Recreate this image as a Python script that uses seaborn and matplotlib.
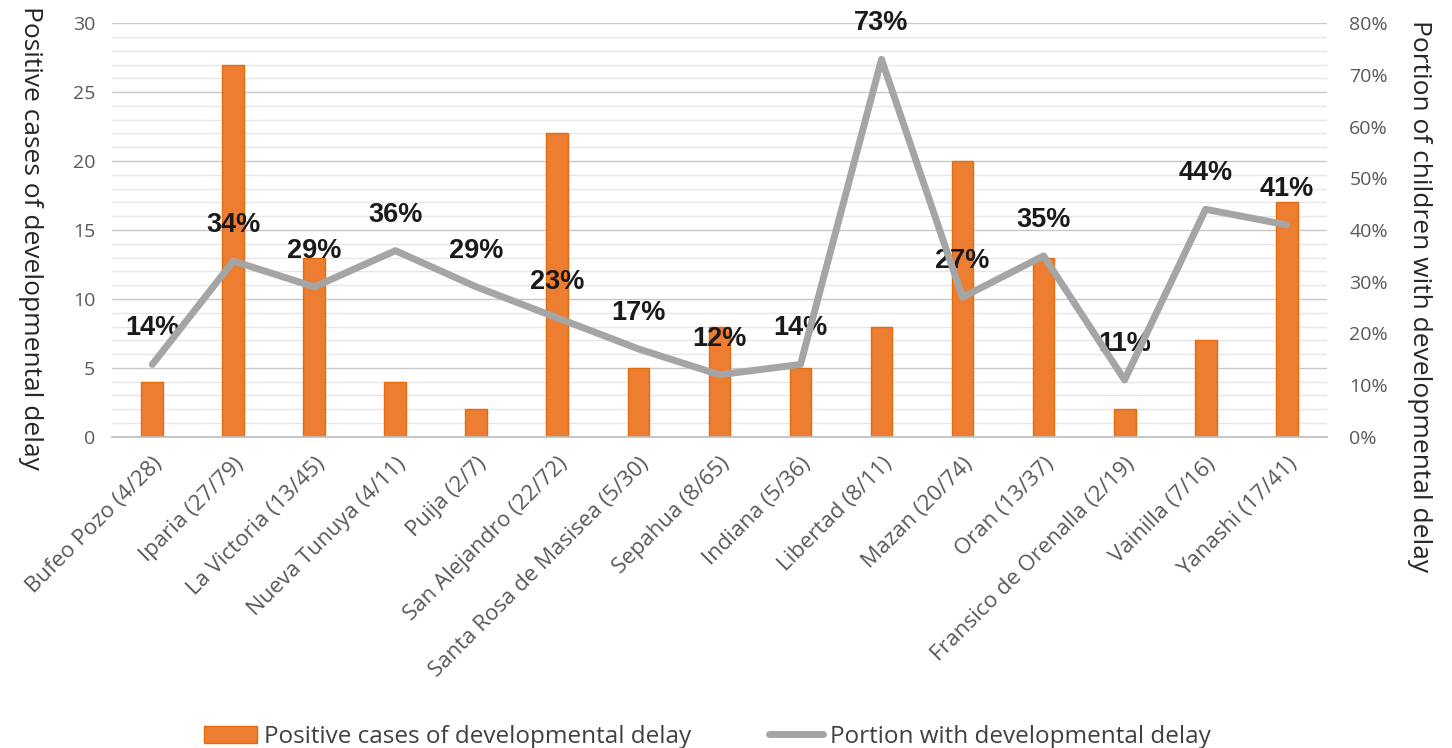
import numpy as np
import pandas as pd
import matplotlib
matplotlib.use("Agg")
import matplotlib.pyplot as plt
import seaborn as sns
from matplotlib.ticker import MultipleLocator, PercentFormatter
from matplotlib.lines import Line2D
from matplotlib.patches import Patch

# Data
communities = ["Bufeo Pozo (4/28)", "Iparia (27/79)", "La Victoria (13/45)",
               "Nueva Tunuya (4/11)", "Puija (2/7)", "San Alejandro (22/72)",
               "Santa Rosa de Masisea (5/30)", "Sepahua (8/65)", "Indiana (5/36)",
               "Libertad (8/11)", "Mazan (20/74)", "Oran (13/37)",
               "Fransico de Orenalla (2/19)", "Vainilla (7/16)", "Yanashi (17/41)"]
positive_cases = [4, 27, 13, 4, 2, 22, 5, 8, 5, 8, 20, 13, 2, 7, 17]
portion_pct = [14, 34, 29, 36, 29, 23, 17, 12, 14, 73, 27, 35, 11, 44, 41]

bar_label = "Positive cases of developmental delay"
line_label = "Portion with developmental delay"

df = pd.DataFrame({"community": communities,
                   "cases": positive_cases,
                   "portion": portion_pct})
df["pos"] = np.arange(len(df))

sns.set_theme(style="white")
plt.rcParams["font.family"] = ["Open Sans", "DejaVu Sans"]

bar_color = "#ED7D31"
line_color = "#A5A5A5"
tick_color = "#595959"

fig = plt.figure(figsize=(14.52, 7.48), dpi=100)
ax = fig.add_axes([0.077, 0.416, 0.837, 0.553])

sns.barplot(data=df, x="community", y="cases", color=bar_color, width=0.27,
            edgecolor="#E46C0A", linewidth=1, saturation=1, ax=ax, zorder=2)
ax.set_ylim(0, 30)
ax.set_xlim(-0.5, len(df) - 0.5)
ax.yaxis.set_major_locator(MultipleLocator(5))
ax.yaxis.set_minor_locator(MultipleLocator(1))
ax.grid(axis="y", which="major", color="#C8C8C8", linewidth=1, zorder=0)
ax.grid(axis="y", which="minor", color="#E6E6E6", linewidth=1, zorder=0)
ax.set_axisbelow(True)
for s in ["top", "right", "left"]:
    ax.spines[s].set_visible(False)
ax.spines["bottom"].set_color("#BFBFBF")

ax.set_xlabel("")
ax.set_ylabel("Positive cases of developmental delay", rotation=270,
              fontsize=19, color="#262626")
ax.yaxis.set_label_coords(-0.077, 0.5 - 0.02)
ax.tick_params(axis="y", which="both", length=0, labelsize=14,
               labelcolor=tick_color, pad=12)
ax.set_xticks(np.arange(len(df)))
ax.set_xticklabels(communities, rotation=45, ha="right", rotation_mode="anchor",
                   fontsize=16, color=tick_color)
ax.tick_params(axis="x", length=0, pad=12)
# Excel-style tick marks between categories
ax.set_xticks(np.arange(len(df) + 1) - 0.5, minor=True)
ax.tick_params(axis="x", which="minor", length=8, color="#BFBFBF", width=1)

# percentage labels above the line points
for i, p in enumerate(portion_pct):
    ax.annotate(f"{p}%", xy=(i, p / 80 * 30), xytext=(0, 26),
                textcoords="offset points", ha="center", va="center",
                fontsize=19.5, fontweight="bold", color="#1A1A1A",
                family=["Liberation Sans", "DejaVu Sans"], zorder=3)

ax2 = ax.twinx()
sns.lineplot(data=df, x="pos", y="portion", color=line_color, linewidth=5,
             ax=ax2, solid_capstyle="round")
ax2.set_ylim(0, 80)
ax2.yaxis.set_major_locator(MultipleLocator(10))
ax2.yaxis.set_major_formatter(PercentFormatter(decimals=0))
ax2.tick_params(axis="y", length=0, labelsize=14, labelcolor=tick_color, pad=16)
for s in ax2.spines.values():
    s.set_visible(False)
ax2.grid(False)
ax2.set_xlabel("")
ax2.set_ylabel("Portion of children with developmental delay", rotation=270,
               fontsize=19, color="#262626")
ax2.yaxis.set_label_coords(1.086, 0.5 - 0.16)
ax2.set_xlim(-0.5, len(df) - 0.5)

handles = [Patch(facecolor=bar_color, edgecolor="#E46C0A"),
           Line2D([0], [0], color=line_color, linewidth=5, solid_capstyle="round")]
fig.legend(handles, [bar_label, line_label], loc="lower center",
           bbox_to_anchor=(0.487, -0.03), ncol=2, frameon=False, fontsize=17.5,
           handlelength=2.2, columnspacing=3.2, handletextpad=0.3,
           labelcolor="#404040")

fig.savefig("out.png", dpi=100)
